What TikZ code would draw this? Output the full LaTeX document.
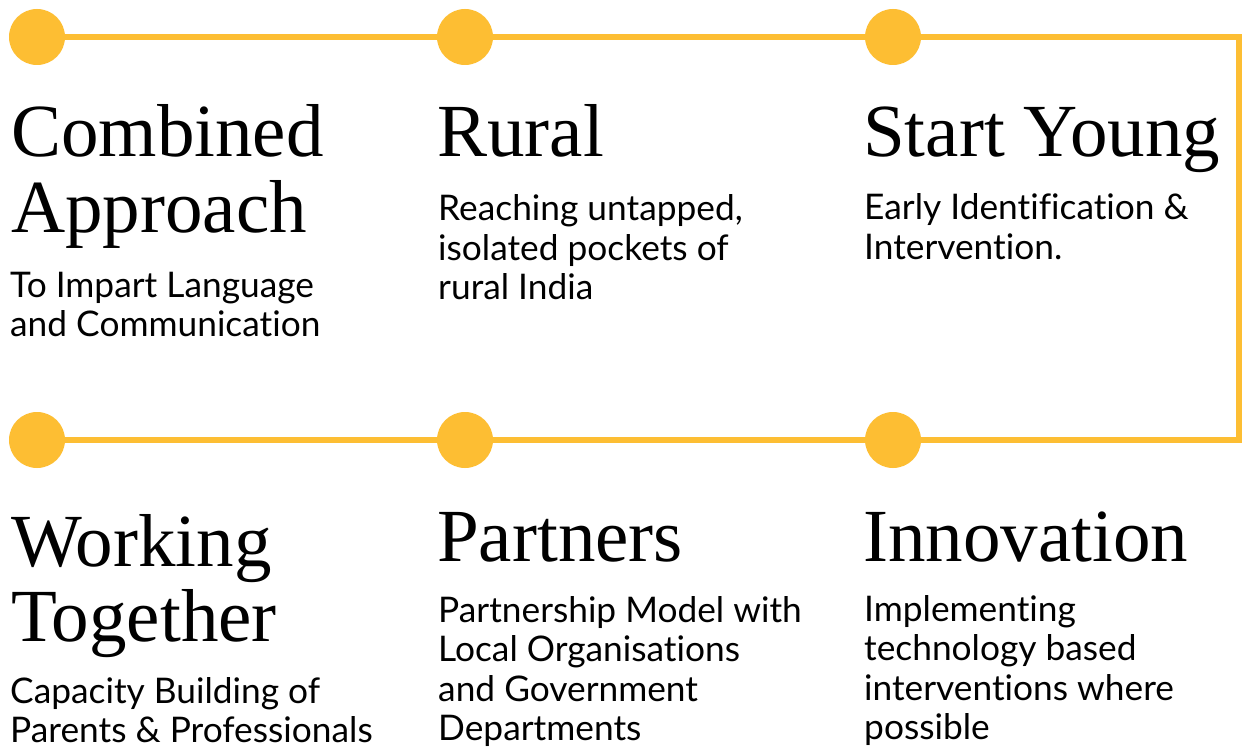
\documentclass[tikz,border=0pt]{standalone}
\usepackage{fontspec}
\usetikzlibrary{backgrounds}
\setmainfont{Liberation Serif}
\newfontfamily\bodyfont[Ligatures={NoCommon}]{Lato}
\definecolor{gold}{HTML}{FDBE33}
\newcommand{\tlines}[1]{\begin{tabular}[t]{@{}l@{}}#1\end{tabular}}
\tikzset{
  dot/.style={circle, fill=gold, draw=none, minimum size=56pt, inner sep=0pt},
  track/.style={draw=gold, line width=5.5pt, line join=miter},
  title/.style={anchor=base west, inner sep=0pt, font=\fontsize{75}{75.5}\selectfont},
  body/.style={anchor=base west, inner sep=0pt, font=\bodyfont\fontsize{35.3}{39.5}\selectfont},
}
\begin{document}
\begin{tikzpicture}[x=1pt, y=-1pt]
\useasboundingbox (0,0) rectangle (1244,751);
% dots
\node[dot] (c1) at (37,37) {};
\node[dot] (c2) at (465,37) {};
\node[dot] (c3) at (893,37) {};
\node[dot] (c4) at (893,440) {};
\node[dot] (c5) at (465,440) {};
\node[dot] (c6) at (37,440) {};
\coordinate (tr) at (1239,37);
\coordinate (br) at (1239,440);
\begin{pgfonlayer}{background}
\fill[white] (0,0) rectangle (1244,751);
\draw[track] (c1.center) -- (c2.center) -- (c3.center) -- (tr) -- (br) -- (c4.center) -- (c5.center) -- (c6.center);
\end{pgfonlayer}
% titles
\node[title] (t1) at (11,157) {\tlines{Combined\\Approach}};
\node[title] (t2) at (437,157) {Rural};
\node[title] (t3) at (863,157) {Start Young};
\node[title] (t4) at (11,566) {\tlines{Working\\Together}};
\node[title] (t5) at (437,561) {Partners};
\node[title] (t6) at (863,561) {Innovation};
% bodies
\node[body] (b1) at (10,297) {\tlines{To Impart Language\\and Communication}};
\node[body] (b2) at (438,221) {\tlines{Reaching untapped,\\isolated pockets of\\rural India}};
\node[body] (b3) at (864,220) {\tlines{Early Identification \&\\Intervention.}};
\node[body] (b4) at (10,703) {\tlines{Capacity Building of\\Parents \& Professionals}};
\node[body] (b5) at (438,622) {\tlines{Partnership Model with\\Local Organisations\\and Government\\Departments}};
\node[body] (b6) at (864,621) {\tlines{Implementing\\technology based\\interventions where\\possible}};
\end{tikzpicture}
\end{document}
